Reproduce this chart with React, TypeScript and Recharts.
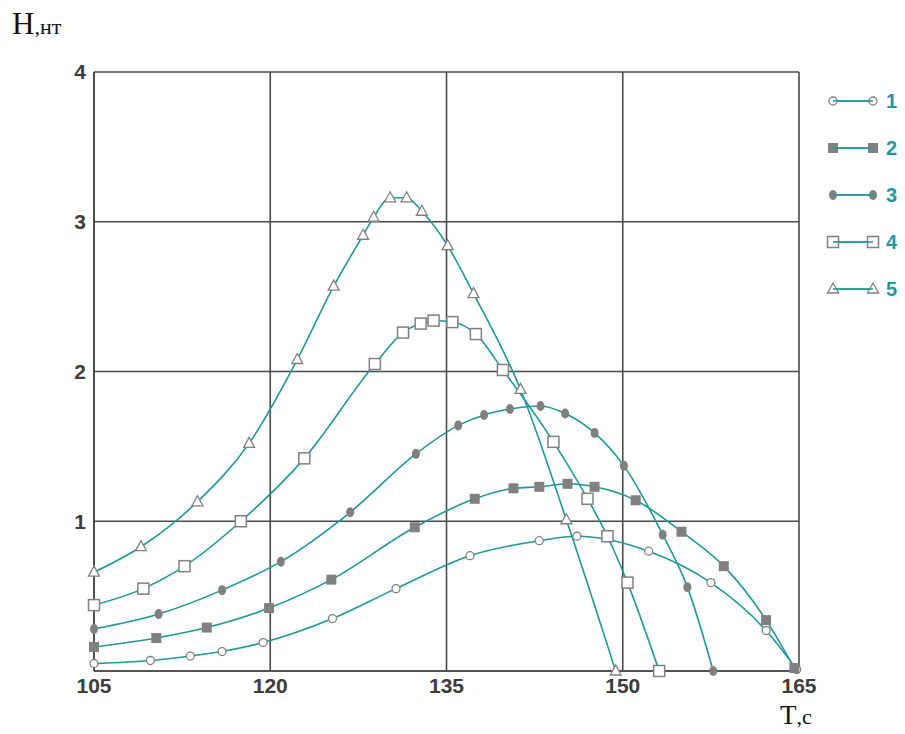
import React from 'react';
import { LineChart, Line, XAxis, YAxis, CartesianGrid } from 'recharts';

// T, c
const xTicks = [105, 120, 135, 150, 165];
// H, нт
const yTicks = [0, 1, 2, 3, 4];
const seriesNames = ['1', '2', '3', '4', '5'];

const s1T = [105, 109.8, 113.2, 115.9, 119.4, 125.3, 130.7, 137.0, 142.9, 146.1, 152.2, 157.5, 162.2, 164.8];
const s1H = [0.05, 0.07, 0.1, 0.13, 0.19, 0.35, 0.55, 0.77, 0.87, 0.9, 0.8, 0.59, 0.27, 0.01];

const s2T = [105, 110.3, 114.6, 119.9, 125.2, 132.3, 137.4, 140.7, 142.9, 145.3, 147.6, 151.1, 155.0, 158.6, 162.2, 164.6];
const s2H = [0.16, 0.22, 0.29, 0.42, 0.61, 0.96, 1.15, 1.22, 1.23, 1.25, 1.23, 1.14, 0.93, 0.7, 0.34, 0.02];

const s3T = [105, 110.5, 115.9, 120.9, 126.8, 132.4, 136.0, 138.2, 140.4, 143.0, 145.1, 147.6, 150.1, 153.4, 155.5, 157.7];
const s3H = [0.28, 0.38, 0.54, 0.73, 1.06, 1.45, 1.64, 1.71, 1.75, 1.77, 1.72, 1.59, 1.37, 0.91, 0.56, 0];

const s4T = [105, 109.2, 112.7, 117.5, 122.9, 128.9, 131.3, 132.8, 133.9, 135.5, 137.5, 139.8, 144.1, 147.0, 148.7, 150.4, 153.1];
const s4H = [0.44, 0.55, 0.7, 1.0, 1.42, 2.05, 2.26, 2.32, 2.34, 2.33, 2.25, 2.01, 1.53, 1.15, 0.9, 0.59, 0];

const s5T = [105, 109.0, 113.8, 118.2, 122.3, 125.4, 127.9, 128.8, 130.2, 131.6, 132.9, 135.1, 137.3, 141.3, 145.2, 149.4];
const s5H = [0.66, 0.83, 1.13, 1.52, 2.08, 2.57, 2.91, 3.03, 3.16, 3.16, 3.07, 2.84, 2.52, 1.88, 1.01, 0];

const TEAL = '#1f9898';
const MARK = '#808080';

const toRows = (t: number[], h: number[]) => t.map((x, i) => ({ t: x, h: h[i] }));

const series = [
  toRows(s1T, s1H),
  toRows(s2T, s2H),
  toRows(s3T, s3H),
  toRows(s4T, s4H),
  toRows(s5T, s5H),
];

// marker shapes: open circle, filled square, filled circle, open square, open triangle
function Marker({ kind, cx, cy }: { kind: number; cx: number; cy: number }) {
  if (cx == null || cy == null) return null;
  switch (kind) {
    case 0:
      return <circle cx={cx} cy={cy} r={4} fill="#fff" stroke={MARK} strokeWidth={1.3} />;
    case 1:
      return <rect x={cx - 5} y={cy - 5} width={10} height={10} fill={MARK} />;
    case 2:
      return <ellipse cx={cx} cy={cy} rx={4} ry={5} fill={MARK} />;
    case 3:
      return <rect x={cx - 5.5} y={cy - 5.5} width={11} height={11} fill="#fff" stroke={MARK} strokeWidth={1.5} />;
    default:
      return (
        <path
          d={`M${cx},${cy - 6} L${cx + 5.5},${cy + 4} L${cx - 5.5},${cy + 4} Z`}
          fill="#fff"
          stroke={MARK}
          strokeWidth={1.3}
        />
      );
  }
}

function LegendRow({ kind, name, top }: { kind: number; name: string; top: number }) {
  return (
    <div style={{ position: 'absolute', left: 826, top: top - 12, height: 24, display: 'flex', alignItems: 'center' }}>
      <svg width={54} height={24}>
        <line x1={7} y1={12} x2={47} y2={12} stroke={TEAL} strokeWidth={1.6} />
        <Marker kind={kind} cx={7} cy={12} />
        <Marker kind={kind} cx={47} cy={12} />
        <line x1={7} y1={12} x2={47} y2={12} stroke={TEAL} strokeWidth={1.6} />
      </svg>
      <span style={{ marginLeft: 6, color: TEAL, fontFamily: '"Liberation Sans", Arial, sans-serif', fontWeight: 700, fontSize: 20 }}>
        {name}
      </span>
    </div>
  );
}

export default function App() {
  const legendTops = [101, 148, 195, 242, 289];
  return (
    <div style={{ position: 'absolute', left: 0, top: 0, width: 905, height: 734, background: '#fff' }}>
      <LineChart width={905} height={734} margin={{ top: 72, right: 106, bottom: 0, left: 0 }}>
        <CartesianGrid stroke="#4a4a4a" strokeWidth={1.6} horizontalValues={yTicks} verticalValues={xTicks} />
        <XAxis
          type="number"
          dataKey="t"
          domain={[105, 165]}
          ticks={xTicks}
          height={63}
          tickSize={0}
          tickMargin={7}
          axisLine={{ stroke: '#4a4a4a', strokeWidth: 1.6 }}
          tick={{ fill: '#3c3c3c', fontSize: 21, fontWeight: 700, fontFamily: '"Liberation Sans", Arial, sans-serif' }}
          allowDuplicatedCategory={false}
        />
        <YAxis
          type="number"
          dataKey="h"
          domain={[0, 4]}
          ticks={yTicks}
          width={94}
          tickSize={0}
          tickMargin={8}
          axisLine={{ stroke: '#4a4a4a', strokeWidth: 1.6 }}
          tickFormatter={(v: number) => (v === 0 ? '' : String(v))}
          tick={{ fill: '#3c3c3c', fontSize: 21, fontWeight: 700, fontFamily: '"Liberation Sans", Arial, sans-serif' }}
        />
        {series.map((data, i) => (
          <Line
            key={`dots-${i}`}
            data={data}
            dataKey="h"
            type="monotone"
            stroke="none"
            isAnimationActive={false}
            legendType="none"
            dot={(p: any) => <Marker key={`m-${i}-${p.index}`} kind={i} cx={p.cx} cy={p.cy} />}
            activeDot={false}
          />
        ))}
        {series.map((data, i) => (
          <Line
            key={`line-${i}`}
            name={seriesNames[i]}
            data={data}
            dataKey="h"
            type="monotone"
            stroke={TEAL}
            strokeWidth={1.6}
            dot={false}
            activeDot={false}
            isAnimationActive={false}
          />
        ))}
      </LineChart>
      <div style={{ position: 'absolute', left: 12, top: 6, fontFamily: '"Liberation Serif", "Times New Roman", serif', color: '#111' }}>
        <span style={{ fontSize: 31 }}>H</span>
        <span style={{ fontSize: 22 }}>,нт</span>
      </div>
      <div style={{ position: 'absolute', left: 780, top: 700, fontFamily: '"Liberation Serif", "Times New Roman", serif', color: '#111' }}>
        <span style={{ fontSize: 27 }}>T</span>
        <span style={{ fontSize: 22 }}>,c</span>
      </div>
      {seriesNames.map((n, i) => (
        <LegendRow key={n} kind={i} name={n} top={legendTops[i]} />
      ))}
    </div>
  );
}
